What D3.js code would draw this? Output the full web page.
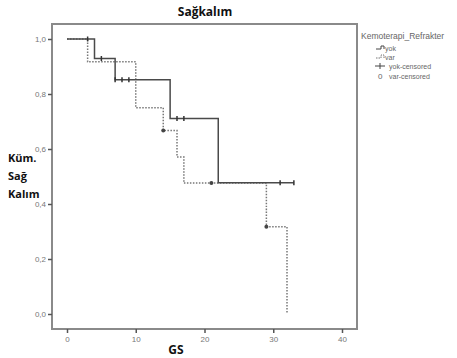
<!DOCTYPE html>
<html>
<head>
<meta charset="utf-8">
<script src="https://cdn.jsdelivr.net/npm/d3@7"></script>
<style>
  body { margin: 0; background: #fff; }
  svg { display: block; }
</style>
</head>
<body>
<svg id="chart" width="457" height="358"></svg>
<script>
// Kaplan-Meier steps
var yokTime = [0, 4, 7, 15, 22, 33];
var yokSurv = [1.0, 0.929, 0.852, 0.711, 0.477, 0.477];
var yokCensTime = [3, 5, 7, 8, 9, 16, 17, 31, 33];

var varTime = [0, 3, 10, 14, 16, 17, 29, 32];
var varSurv = [1.0, 0.917, 0.75, 0.667, 0.571, 0.476, 0.317, 0.0];
var varCensTime = [14, 21, 29];

var xTicks = [0, 10, 20, 30, 40];
var yTicks = [0, 0.2, 0.4, 0.6, 0.8, 1.0];
var legendLabels = ['yok', 'var', 'yok-censored', 'var-censored'];

var svg = d3.select('#chart');
var frame = { left: 52, top: 24, right: 357, bottom: 329 };

var x = d3.scaleLinear().domain([0, 40]).range([67, 342]);
var y = d3.scaleLinear().domain([0, 1]).range([314, 39]);

function toPoints(t, s) {
    return t.map(function (d, i) { return [d, s[i]]; });
}
function survAt(t, times, surv) {
    var v = surv[0];
    for (var i = 0; i < times.length; i++) if (times[i] <= t) v = surv[i];
    return v;
}

// frame
svg.append('rect')
    .attr('x', frame.left).attr('y', frame.top)
    .attr('width', frame.right - frame.left)
    .attr('height', frame.bottom - frame.top)
    .attr('fill', 'none')
    .attr('stroke', '#8a8a8a')
    .attr('stroke-width', 2);

// y axis
var yAxis = svg.append('g')
    .attr('transform', 'translate(' + frame.left + ',0)')
    .call(d3.axisLeft(y).tickValues(yTicks).tickSize(4).tickPadding(2)
        .tickFormat(function (d) { return d3.format('.1f')(d).replace('.', ','); }));
yAxis.select('.domain').remove();
yAxis.selectAll('line').attr('stroke', '#555').attr('stroke-width', 1.5);
yAxis.selectAll('text').attr('fill', '#777').style('font-family', 'Liberation Sans, Arial, sans-serif').style('font-size', '8px');

// x axis
var xAxis = svg.append('g')
    .attr('transform', 'translate(0,' + frame.bottom + ')')
    .call(d3.axisBottom(x).tickValues(xTicks).tickSize(4).tickPadding(3));
xAxis.select('.domain').remove();
xAxis.selectAll('line').attr('stroke', '#555').attr('stroke-width', 1.5);
xAxis.selectAll('text').attr('fill', '#777').style('font-family', 'Liberation Sans, Arial, sans-serif').style('font-size', '8px');

var line = d3.line()
    .x(function (d) { return x(d[0]); })
    .y(function (d) { return y(d[1]); })
    .curve(d3.curveStepAfter);

// var (dotted)
svg.append('path')
    .datum(toPoints(varTime, varSurv))
    .attr('fill', 'none')
    .attr('stroke', '#777')
    .attr('stroke-width', 1.5)
    .attr('stroke-dasharray', '1.5,1.5')
    .attr('d', line);

// yok (solid)
svg.append('path')
    .datum(toPoints(yokTime, yokSurv))
    .attr('fill', 'none')
    .attr('stroke', '#4a4a4a')
    .attr('stroke-width', 1.5)
    .attr('d', line);

// censored marks
svg.append('g').selectAll('line')
    .data(yokCensTime)
    .enter().append('line')
    .attr('x1', function (d) { return x(d); })
    .attr('x2', function (d) { return x(d); })
    .attr('y1', function (d) { return y(survAt(d, yokTime, yokSurv)) - 2.5; })
    .attr('y2', function (d) { return y(survAt(d, yokTime, yokSurv)) + 2.5; })
    .attr('stroke', '#333')
    .attr('stroke-width', 1.5);

svg.append('g').selectAll('circle')
    .data(varCensTime)
    .enter().append('circle')
    .attr('cx', function (d) { return x(d); })
    .attr('cy', function (d) { return y(survAt(d, varTime, varSurv)); })
    .attr('r', 2)
    .attr('fill', '#444');

// titles
svg.append('text')
    .attr('x', 205).attr('y', 16)
    .attr('text-anchor', 'middle')
    .style('font-family', 'Open Sans, sans-serif')
    .style('font-weight', 'bold')
    .style('font-size', '12px')
    .attr('fill', '#111')
    .text('Sağkalım');

svg.append('text')
    .attr('x', 176).attr('y', 354)
    .attr('text-anchor', 'middle')
    .style('font-family', 'Open Sans, sans-serif')
    .style('font-weight', 'bold')
    .style('font-size', '12px')
    .attr('fill', '#111')
    .text('GS');

var yLab = ['Küm.', 'Sağ', 'Kalım'];
svg.append('g').selectAll('text')
    .data(yLab)
    .enter().append('text')
    .attr('x', 8)
    .attr('y', function (d, i) { return 162 + i * 18; })
    .style('font-family', 'Open Sans, sans-serif')
    .style('font-weight', 'bold')
    .style('font-size', '11px')
    .attr('fill', '#111')
    .text(function (d) { return d; });

// legend
var leg = svg.append('g').style('font-family', 'Liberation Sans, Arial, sans-serif');
leg.append('text')
    .attr('x', 361).attr('y', 39)
    .style('font-size', '8.5px')
    .attr('fill', '#666')
    .text('Kemoterapi_Refrakter');

var legY = [50, 59, 68, 78];
legendLabels.forEach(function (lab, i) {
    var yy = legY[i];
    if (i < 2) {
        leg.append('path')
            .attr('d', 'M376,' + (yy - 1) + 'H381V' + (yy - 4) + 'H384V' + (yy - 1))
            .attr('fill', 'none')
            .attr('stroke', i === 0 ? '#444' : '#777')
            .attr('stroke-width', 1)
            .attr('stroke-dasharray', i === 0 ? null : '1.5,1');
        leg.append('text').attr('x', 385).attr('y', yy + 1)
            .style('font-size', '7px').attr('fill', '#666').text(lab);
    } else if (i === 2) {
        leg.append('line').attr('x1', 375).attr('x2', 385).attr('y1', yy - 2).attr('y2', yy - 2)
            .attr('stroke', '#444').attr('stroke-width', 1);
        leg.append('line').attr('x1', 380).attr('x2', 380).attr('y1', yy - 5).attr('y2', yy + 1)
            .attr('stroke', '#444').attr('stroke-width', 1);
        leg.append('text').attr('x', 389).attr('y', yy + 1)
            .style('font-size', '7px').attr('fill', '#666').text(lab);
    } else {
        leg.append('text').attr('x', 378).attr('y', yy + 1)
            .style('font-size', '8px').attr('fill', '#666').text('0');
        leg.append('text').attr('x', 389).attr('y', yy + 1)
            .style('font-size', '7px').attr('fill', '#666').text(lab);
    }
});
</script>
</body>
</html>
